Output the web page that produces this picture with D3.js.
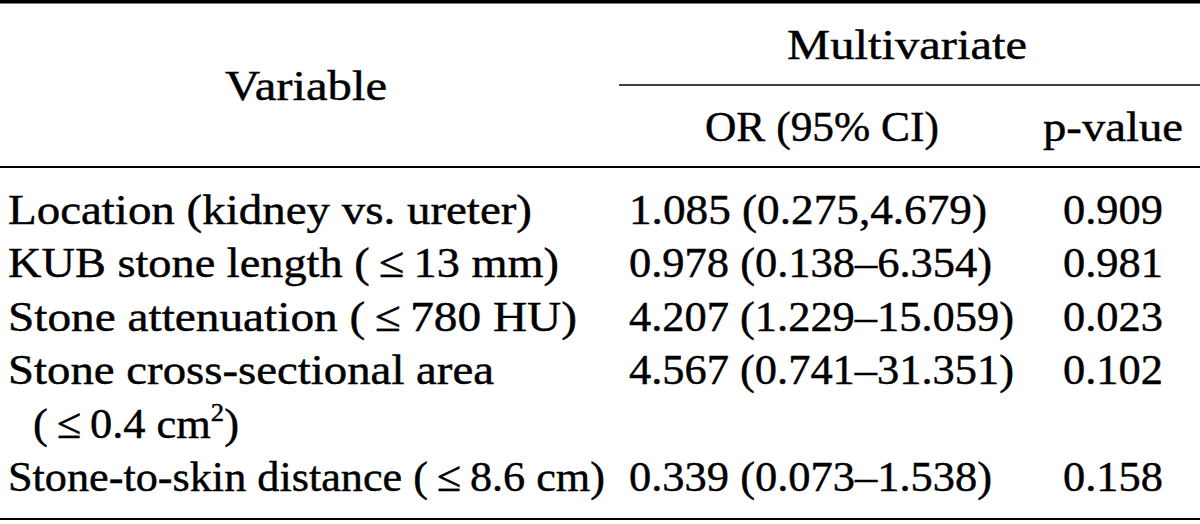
<!DOCTYPE html>
<html>
<head>
<meta charset="utf-8">
<script src="https://cdn.jsdelivr.net/npm/d3@7"></script>
<style>
  html, body { margin: 0; padding: 0; background: #fff; }
  svg { display: block; }
  text { font-family: "Liberation Serif", "Times New Roman", serif; fill: #000; stroke: #000; stroke-width: 0.45px; }
</style>
</head>
<body>
<svg id="chart" width="1200" height="524"></svg>
<script>
// ---- data ----
const headerVariable = "Variable";
const headerGroup = "Multivariate";
const headerOR = "OR (95% CI)";
const headerP = "p-value";

// variable labels: each entry is a list of display lines (|2| = superscript)
const variableLines = [
  ["Location (kidney vs. ureter)"],
  ["KUB stone length (\u2009\u2264\u200913 mm)"],
  ["Stone attenuation (\u2009\u2264\u2009780 HU)"],
  ["Stone cross-sectional area", "(\u2009\u2264\u20090.4 cm|2|)"],
  ["Stone-to-skin distance (\u2009\u2264\u20098.6 cm)"]
];
const orEstimate = ["1.085", "0.978", "4.207", "4.567", "0.339"];
const ciLower    = ["0.275", "0.138", "1.229", "0.741", "0.073"];
const ciUpper    = ["4.679", "6.354", "15.059", "31.351", "1.538"];
const ciSep      = [",", "\u2013", "\u2013", "\u2013", "\u2013"];
const pValues    = ["0.909", "0.981", "0.023", "0.102", "0.158"];

// ---- layout ----
const W = 1200, H = 524;
const svg = d3.select("#chart");
const fontSize = 43;

// rendered widths that match the wide reference typeface
const varWidths = [[524], [551], [569], [486, 206], [597]];
const orWidths = [358, 363, 385, 385, 363];
const pWidth = 100;

let lineIdx = 0;
const rows = variableLines.map((lines, i) => {
  const r = { i, start: lineIdx, lines };
  lineIdx += lines.length;
  return r;
});
const totalLines = lineIdx;
const y = d3.scaleLinear().domain([0, totalLines - 1]).range([224, 491]);

const colX = { varLeft: 8, varIndent: 33, orLeft: 629, pCenter: 1113, varCenter: 306, groupCenter: 907, orCenter: 822 };

function addText(x, yy, str, anchor, width) {
  const t = svg.append("text")
    .attr("x", x).attr("y", yy)
    .attr("font-size", fontSize)
    .attr("text-anchor", anchor || "start");
  const parts = str.split("|");
  parts.forEach((p, k) => {
    if (k % 2 === 1) {
      t.append("tspan").attr("font-size", fontSize * 0.6).attr("dy", -17).text(p);
    } else {
      const ts = t.append("tspan").text(p);
      if (k > 0) ts.attr("dy", 17);
    }
  });
  if (width) t.attr("textLength", width).attr("lengthAdjust", "spacingAndGlyphs");
  return t;
}

function rule(x1, x2, yy, w) {
  svg.append("line").attr("x1", x1).attr("x2", x2).attr("y1", yy).attr("y2", yy)
    .attr("stroke", "#000").attr("stroke-width", w);
}
rule(0, W, 1.8, 3.6);
rule(619, W, 85, 1.6);
rule(0, W, 167, 2);
rule(0, W, 519, 2);

// headers
addText(colX.varCenter, 100, headerVariable, "middle", 162);
addText(colX.groupCenter, 59, headerGroup, "middle", 240);
addText(colX.orCenter, 141, headerOR, "middle", 234);
addText(colX.pCenter, 141, headerP, "middle", 140);

// body
rows.forEach(r => {
  r.lines.forEach((ln, k) => {
    addText(k === 0 ? colX.varLeft : colX.varIndent, y(r.start + k), ln, "start", varWidths[r.i][k]);
  });
  const by = y(r.start);
  addText(colX.orLeft, by, `${orEstimate[r.i]} (${ciLower[r.i]}${ciSep[r.i]}${ciUpper[r.i]})`, "start", orWidths[r.i]);
  addText(colX.pCenter, by, pValues[r.i], "middle", pWidth);
});
</script>
</body>
</html>
